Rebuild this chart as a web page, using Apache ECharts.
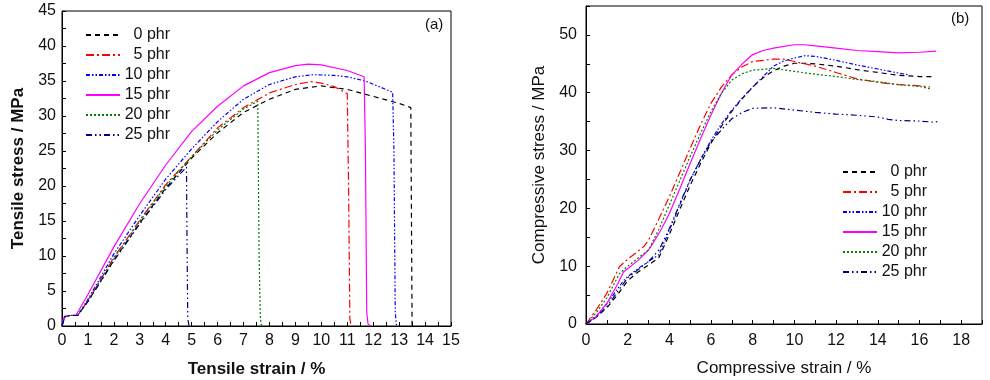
<!DOCTYPE html>
<html><head><meta charset="utf-8">
<script src="https://cdn.jsdelivr.net/npm/echarts@6/dist/echarts.min.js"></script>
<style>html,body{margin:0;padding:0;background:#fff;}#a{position:absolute;left:0;top:0;width:495px;height:380px;}#b{position:absolute;left:495px;top:0;width:495px;height:380px;}</style>
</head><body><div id="a"></div><div id="b"></div>
<script>
// ---------- data ----------
const seriesNames = ['0 phr','5 phr','10 phr','15 phr','20 phr','25 phr'];
const seriesColors = ['#000000','#ff0000','#0000ff','#ff00ff','#007f00','#000080'];

// Tensile (a): [strain %, stress MPa]
const tensile0 = [[0,0],[0.1,1.3],[0.3,1.5],[0.6,1.5],[1,3.5],[2,9.4],[3,14.7],[4,19.7],[5,24],[6,27.6],[7,30.5],[8,32.4],[9,33.8],[10,34.3],[11,33.8],[12,32.8],[13,31.8],[13.45,31.2],[13.5,0]];
const tensile5 = [[0,0],[0.1,1.3],[0.3,1.5],[0.6,1.5],[1,3.6],[2,9.8],[3,15.1],[4,20.2],[5,24.2],[6,28.3],[7,31.2],[8,33.3],[9,34.5],[9.6,34.9],[10,34.7],[10.5,34.2],[11,33.2],[11.05,20],[11.1,1],[11.15,0]];
const tensile10 = [[0,0],[0.1,1.3],[0.3,1.5],[0.6,1.5],[1,3.8],[2,10.3],[3,15.8],[4,21],[5,25.3],[6,29.2],[7,32.4],[8,34.5],[9,35.6],[9.7,35.9],[10.5,35.8],[11,35.6],[11.7,35],[12.75,33.4],[12.8,25],[12.85,2],[12.9,0]];
const tensile15 = [[0,0.5],[0.1,1.4],[0.3,1.5],[0.55,1.6],[1,4.5],[2,11.3],[3,17.5],[4,23],[5,27.8],[6,31.4],[7,34.3],[8,36.2],[9,37.2],[9.5,37.4],[10,37.3],[11,36.5],[11.65,35.6],[11.7,25],[11.75,2],[11.8,0.3],[11.9,0]];
const tensile20 = [[0,0],[0.1,1.3],[0.3,1.5],[0.6,1.5],[1,3.6],[2,9.7],[3,15],[4,20],[5,24.2],[6,28],[7,31],[7.55,32.1],[7.6,10],[7.65,1],[7.7,0]];
const tensile25 = [[0,0],[0.1,1.3],[0.3,1.5],[0.6,1.5],[1,3.5],[2,9.3],[3,14.6],[4,19.5],[4.8,22.7],[4.82,12],[4.85,1],[4.9,0]];

// Compressive (b): [strain %, stress MPa]
const comp0 = [[0,0],[0.5,1.2],[1,2.8],[1.5,5],[2,7.5],[2.5,9],[3,10.2],[3.5,11.5],[4,15.5],[4.5,19.8],[5,24],[5.5,27.8],[6,31.3],[6.5,34.2],[7,36.8],[7.5,39],[8,41],[8.5,42.6],[9,43.8],[9.5,44.6],[10,45.1],[10.5,45.1],[11,45],[12,44.6],[13,44],[14,43.5],[15,43],[16,42.8],[16.7,42.8]];
const comp5 = [[0,0],[0.5,2.5],[1,5.3],[1.6,9.9],[2,11.2],[2.5,12.6],[2.8,13.5],[3,14.5],[3.5,18.2],[4,22],[4.5,26.2],[5,30.4],[5.5,34.5],[6,38.2],[6.5,41],[7,43.1],[7.5,44.5],[8,45.4],[9,45.8],[9.5,45.8],[10,45.4],[11,44.6],[12,43.5],[13,42.4],[14,41.8],[15,41.4],[16,41.2],[16.5,41]];
const comp10 = [[0,0],[0.5,1.4],[1,3.5],[1.8,7.5],[2,8.2],[2.5,9.6],[3,10.8],[3.5,12],[4,16.2],[4.5,20.6],[5,24.9],[5.5,28.5],[6,31.8],[6.5,34.6],[7,37],[7.5,39.1],[8,41],[8.5,42.8],[9,44.6],[9.5,45.5],[10,46],[10.5,46.4],[11,46.3],[12,45.6],[13,44.8],[14,44.1],[15,43.4],[15.5,43.1]];
const comp15 = [[0,0],[0.5,1.3],[1,3.6],[1.5,6.8],[1.8,9],[2.5,11],[3,12.8],[3.2,13.9],[3.6,16.3],[4,19.1],[4.5,23.4],[5,27.8],[5.5,32.1],[6,36.2],[6.5,39.9],[7,43.1],[7.5,45],[8,46.6],[8.5,47.3],[9,47.7],[10,48.3],[10.5,48.3],[11,48.1],[12,47.7],[13,47.3],[14,47.1],[15,46.9],[16,47],[16.8,47.2]];
const comp20 = [[0,0],[0.5,2],[1,4.5],[1.6,8.7],[2,10],[2.5,11.4],[3,12.8],[3.5,16.4],[4,20.6],[4.5,24.8],[5,29],[5.5,33],[6,36.8],[6.5,39.9],[7,42.2],[7.5,43.3],[8,43.9],[9,44.2],[10,43.7],[11,43.2],[12,42.8],[13,42.3],[14,41.9],[15,41.4],[16,41.1],[16.6,40.6]];
const comp25 = [[0,0],[0.5,1.2],[1,3],[1.5,5.5],[2,8],[2.5,9.4],[3,10.8],[3.5,12.8],[4,16.5],[4.5,20.8],[5,25],[5.5,28.4],[6,31.5],[6.6,34],[7,35.5],[7.5,36.6],[8,37.3],[9,37.4],[10,37],[11,36.6],[12,36.3],[13,36.1],[14,35.8],[14.5,35.4],[15,35.2],[16,35.1],[16.7,34.9],[17,35.1]];

const tensileData = [tensile0, tensile5, tensile10, tensile15, tensile20, tensile25];
const compData = [comp0, comp5, comp10, comp15, comp20, comp25];

// ---------- styling ----------
const dashes = [[5,4],[8,3,2,3],[4,2,1.5,2,1.5,2],'solid',[2,2],[6,3,1.5,3,1.5,3]];
const FONT = 'Liberation Sans, Arial, sans-serif';
const TXT = '#111';

function makeSeries(datas){
  return datas.map((d,i)=>({
    name: seriesNames[i], type:'line', data:d, symbol:'none', animation:false,
    lineStyle:{color:seriesColors[i], width:1.2, type:dashes[i]},
    itemStyle:{color:seriesColors[i]}
  }));
}
function legendCfg(left, top){
  return {
    orient:'vertical', left:left, top:top, itemWidth:34, itemHeight:10, itemGap:2,
    data: seriesNames,
    itemStyle:{opacity:0, borderWidth:0},
    formatter: n => '{t|' + n + '}',
    textStyle:{fontFamily:FONT, fontSize:16, color:TXT, lineHeight:18,
      rich:{t:{width:45, align:'right', fontFamily:FONT, fontSize:16, color:TXT, lineHeight:18}}},
    selectedMode:false
  };
}
function axisCommon(){
  return {
    axisLine:{show:true, lineStyle:{color:'#000', width:1}},
    axisTick:{show:true, inside:true, length:4, lineStyle:{color:'#000'}},
    splitLine:{show:false},
    axisLabel:{fontFamily:FONT, fontSize:16, color:TXT},
    nameTextStyle:{fontFamily:FONT, fontSize:17, color:TXT}
  };
}

const chartA = echarts.init(document.getElementById('a'), null, {renderer:'canvas'});
const xA = Object.assign(axisCommon(), {
  type:'value', min:0, max:15, interval:1, name:'Tensile strain / %', nameLocation:'middle', nameGap:35,
  minorTick:{show:true, splitNumber:2, length:4, lineStyle:{color:'#000'}}
});
xA.axisLabel.margin = 7;
xA.nameTextStyle.fontWeight = 'bold';
const yA = Object.assign(axisCommon(), {
  type:'value', min:0, max:45, interval:5, name:'Tensile stress / MPa', nameLocation:'middle', nameGap:35,
  minorTick:{show:true, splitNumber:2, length:4, lineStyle:{color:'#000'}}
});
yA.axisLabel.margin = 6;
yA.nameTextStyle.fontWeight = 'bold';
chartA.setOption({
  animation:false,
  grid:{left:62, top:11, width:389, height:315, show:true, borderColor:'#000', borderWidth:1, backgroundColor:'transparent', containLabel:false, outerBoundsMode:'none'},
  xAxis:xA, yAxis:yA,
  legend: legendCfg(80, 21),
  graphic:[{type:'text', left:425, top:17, style:{text:'(a)', font:'15px '+FONT, fill:TXT}}],
  series: makeSeries(tensileData)
});

const chartB = echarts.init(document.getElementById('b'), null, {renderer:'canvas'});
const xB = Object.assign(axisCommon(), {
  type:'value', min:0, max:19, interval:1, name:'Compressive strain / %', nameLocation:'middle', nameGap:36
});
xB.axisLabel.margin = 9;
xB.axisLabel.formatter = v => (v % 2 === 0 && v <= 18) ? String(v) : '';
const yB = Object.assign(axisCommon(), {
  type:'value', min:0, max:55, interval:5, name:'Compressive stress / MPa', nameLocation:'middle', nameGap:36
});
yB.axisLabel.margin = 9;
yB.axisLabel.formatter = v => (v % 10 === 0 && v <= 50) ? String(v) : '';
chartB.setOption({
  animation:false,
  grid:{left:91, top:6, width:396, height:318, show:true, borderColor:'#000', borderWidth:1, backgroundColor:'transparent', containLabel:false, outerBoundsMode:'none'},
  xAxis:xB, yAxis:yB,
  legend: legendCfg(342, 158),
  graphic:[{type:'text', left:456, top:11, style:{text:'(b)', font:'15px '+FONT, fill:TXT}}],
  series: makeSeries(compData)
});
</script></body></html>
